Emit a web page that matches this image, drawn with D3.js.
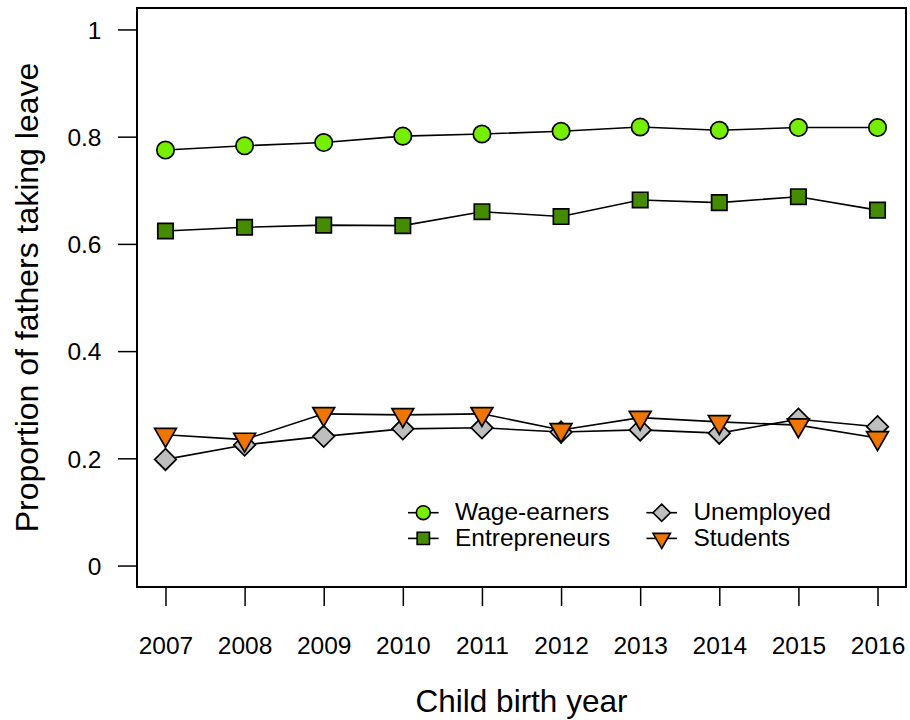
<!DOCTYPE html>
<html>
<head>
<meta charset="utf-8">
<script src="https://cdn.jsdelivr.net/npm/d3@7"></script>
<style>
  html, body { margin: 0; padding: 0; background: #ffffff; }
  svg { display: block; }
  text { font-family: "Liberation Sans", Arial, sans-serif; fill: #000; }
</style>
</head>
<body>
<svg id="chart" width="910" height="720"></svg>
<script>
// Birth years of the child (x categories)
const years = [2007, 2008, 2009, 2010, 2011, 2012, 2013, 2014, 2015, 2016];

// Proportion of fathers taking parental leave, by labour-market status
const wageEarners    = [0.775, 0.783, 0.789, 0.801, 0.805, 0.810, 0.818, 0.812, 0.817, 0.817];
const entrepreneurs  = [0.624, 0.631, 0.635, 0.634, 0.660, 0.651, 0.682, 0.677, 0.688, 0.663];
const unemployed     = [0.198, 0.225, 0.241, 0.255, 0.257, 0.249, 0.253, 0.247, 0.273, 0.259];
const students       = [0.244, 0.235, 0.283, 0.281, 0.283, 0.253, 0.276, 0.268, 0.262, 0.238];

// Axis tick values and labels
const yTicks = [0, 0.2, 0.4, 0.6, 0.8, 1];
const yTickLabels = ["0", "0.2", "0.4", "0.6", "0.8", "1"];

const seriesNames = ["Wage-earners", "Entrepreneurs", "Unemployed", "Students"];
const seriesValues = [wageEarners, entrepreneurs, unemployed, students];
const seriesShapes = ["circle", "square", "diamond", "triangleDown"];
const seriesFills = ["#76EE00", "#458B00", "#BEBEBE", "#EE7600"];

const svg = d3.select("#chart");

// Plot region (R-style box with 4% padding around the data range)
const box = { left: 137, right: 906, top: 8, bottom: 587 };

const x = d3.scaleLinear()
  .domain([2007 - 0.36, 2016 + 0.36])
  .range([box.left, box.right]);

const y = d3.scaleLinear()
  .domain([-0.04, 1.04])
  .range([box.bottom, box.top]);

// Marker path generators, sized in pixels
function markerPath(shape, s) {
  const p = d3.path();
  if (shape === "circle") {
    const r = 8.7 * s;
    p.moveTo(r, 0);
    p.arc(0, 0, r, 0, 2 * Math.PI);
  } else if (shape === "square") {
    const h = 7.7 * s;
    p.rect(-h, -h, 2 * h, 2 * h);
  } else if (shape === "diamond") {
    const h = 10.8 * s;
    p.moveTo(0, -h); p.lineTo(h, 0); p.lineTo(0, h); p.lineTo(-h, 0);
  } else if (shape === "triangleDown") {
    const xc = 8.1 * s;
    const r = 1.5551 * xc, yc = 0.7776 * xc, hw = 1.3468 * xc;
    p.moveTo(0, r); p.lineTo(hw, -yc); p.lineTo(-hw, -yc);
  }
  p.closePath();
  return p.toString();
}

// Axes
const yAxis = d3.axisLeft(y)
  .tickValues(yTicks)
  .tickFormat((d, i) => yTickLabels[i])
  .tickSize(19)
  .tickPadding(16.5);

const gy = svg.append("g")
  .attr("transform", `translate(${box.left},0)`)
  .call(yAxis);
gy.select(".domain").remove();
gy.selectAll(".tick line").attr("stroke", "#000").attr("stroke-width", 1.5);
gy.selectAll(".tick text")
  .attr("font-size", 24.5)
  .attr("dy", "0.36em")
  .style("font-family", "'Liberation Sans', Arial, sans-serif");

const xAxis = d3.axisBottom(x)
  .tickValues(years)
  .tickFormat(d3.format("d"))
  .tickSize(19);

const gx = svg.append("g")
  .attr("transform", `translate(0,${box.bottom})`)
  .call(xAxis);
gx.select(".domain").remove();
gx.selectAll(".tick line").attr("stroke", "#000").attr("stroke-width", 1.5);
gx.selectAll(".tick text")
  .attr("font-size", 24.5)
  .attr("y", 654 - box.bottom)
  .attr("dy", 0)
  .style("font-family", "'Liberation Sans', Arial, sans-serif");

// Plot frame
svg.append("rect")
  .attr("x", box.left)
  .attr("y", box.top)
  .attr("width", box.right - box.left)
  .attr("height", box.bottom - box.top)
  .attr("fill", "none")
  .attr("stroke", "#000")
  .attr("stroke-width", 2);

// Axis titles
svg.append("text")
  .attr("x", (box.left + box.right) / 2)
  .attr("y", 712)
  .attr("text-anchor", "middle")
  .attr("font-size", 31.5)
  .text("Child birth year");

svg.append("text")
  .attr("transform", `translate(38,${(box.top + box.bottom) / 2}) rotate(-90)`)
  .attr("text-anchor", "middle")
  .attr("font-size", 32)
  .text("Proportion of fathers taking leave");

// Series: connecting line, then markers
const line = d3.line()
  .x((d, i) => x(years[i]))
  .y(d => y(d));

seriesValues.forEach((vals, k) => {
  const g = svg.append("g").attr("class", "series");
  g.append("path")
    .datum(vals)
    .attr("d", line)
    .attr("fill", "none")
    .attr("stroke", "#000")
    .attr("stroke-width", 1.6);
  g.selectAll("path.marker")
    .data(vals)
    .join("path")
    .attr("class", "marker")
    .attr("transform", (d, i) => `translate(${x(years[i])},${y(d)})`)
    .attr("d", markerPath(seriesShapes[k], 1))
    .attr("fill", seriesFills[k])
    .attr("stroke", "#000")
    .attr("stroke-width", 1.7)
    .attr("stroke-linejoin", "miter");
});

// Legend (two columns, two rows)
const legendCols = [423.3, 661.7];
const legendRows = [512.7, 538.4];
const legend = svg.append("g").attr("class", "legend");
seriesNames.forEach((name, k) => {
  const cx = legendCols[Math.floor(k / 2)];
  const cy = legendRows[k % 2];
  const item = legend.append("g").attr("transform", `translate(${cx},${cy})`);
  item.append("line")
    .attr("x1", -15.3).attr("x2", 15.3)
    .attr("y1", 0).attr("y2", 0)
    .attr("stroke", "#000").attr("stroke-width", 1.6);
  item.append("path")
    .attr("d", markerPath(seriesShapes[k], 0.8))
    .attr("fill", seriesFills[k])
    .attr("stroke", "#000")
    .attr("stroke-width", 1.6);
  item.append("text")
    .attr("x", 31.7)
    .attr("y", 7.5)
    .attr("font-size", 24.5)
    .text(name);
});
</script>
</body>
</html>
